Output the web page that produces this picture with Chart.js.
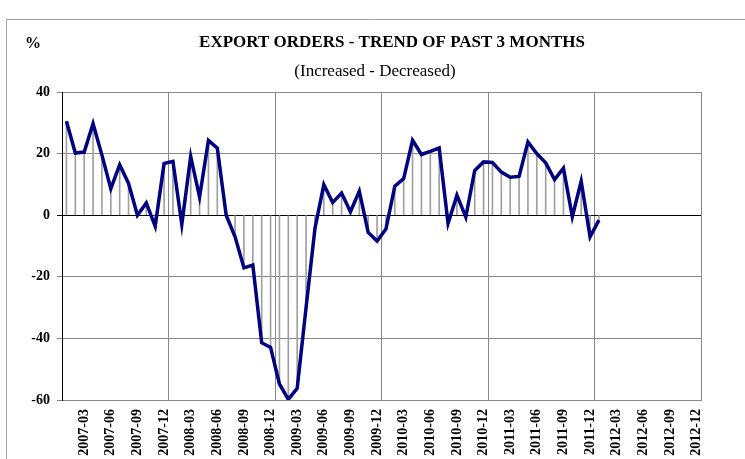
<!DOCTYPE html>
<html>
<head>
<meta charset="utf-8">
<script src="https://cdn.jsdelivr.net/npm/chart.js@4"></script>
<style>
  body { margin: 0; background: #fff; }
  canvas { display: block; }
</style>
</head>
<body>
<canvas id="myChart" width="745" height="459"></canvas>
<script>
// Categories: one per month, 2007-01 .. 2012-12
var years = ['2007', '2008', '2009', '2010', '2011', '2012'];
var months = ['01', '02', '03', '04', '05', '06', '07', '08', '09', '10', '11', '12'];

// Export orders balance (increased - decreased), % , 2007-01 .. 2012-01
var balance = [
    30.5, 20.2, 20.5, 29.7, 19.5, 8.6, 16.4, 10.3, 0, 4.0, -3.6, 16.8,
    17.5, -3.0, 19.1, 5.9, 24.3, 21.8, 0, -7.0, -17.1, -16.2, -41.4, -42.9,
    -54.8, -59.8, -56.2, -30, -4.3, 9.9, 4.1, 7.2, 1.1, 7.8, -5.6, -8.4,
    -4.5, 9.4, 11.9, 24.3, 19.7, 20.7, 21.8, -2.7, 6.5, -0.6, 14.5, 17.3,
    17.1, 14.0, 12.3, 12.6, 23.8, 20.0, 17.0, 11.6, 15.3, -0.5, 11.0, -7.0,
    -1.6
];

var yTicks = [-60, -40, -20, 0, 20, 40];

var chartTitle = 'EXPORT ORDERS - TREND OF PAST 3 MONTHS';
var chartSubtitle = '(Increased - Decreased)';
var unitLabel = '%';

var labels = [];
for (let y of years) {
    for (let m of months) {
        labels.push(y + '-' + m);
    }
}

var serif = "'Liberation Serif', 'Times New Roman', serif";

// Frame and texts drawn around the plot
var decorations = {
    id: 'decorations',
    beforeDraw: function (chart) {
        var ctx = chart.ctx;
        ctx.save();
        ctx.strokeStyle = '#a0a0a0';
        ctx.lineWidth = 1;
        ctx.beginPath();
        ctx.moveTo(6.5, 459);
        ctx.lineTo(6.5, 19.5);
        ctx.lineTo(745, 19.5);
        ctx.stroke();
        ctx.restore();
    },
    afterDraw: function (chart) {
        var ctx = chart.ctx;
        ctx.save();
        ctx.fillStyle = '#000';
        ctx.textBaseline = 'middle';
        ctx.textAlign = 'center';
        ctx.font = 'bold 17px ' + serif;
        ctx.fillText(chartTitle, 392, 43);
        ctx.font = '17px ' + serif;
        ctx.fillText(chartSubtitle, 375, 72);
        ctx.font = 'bold 16px ' + serif;
        ctx.fillText(unitLabel, 33, 44);
        ctx.restore();
    }
};

var ctx = document.getElementById('myChart').getContext('2d');
new Chart(ctx, {
    data: {
        labels: labels,
        datasets: [
            {
                type: 'line',
                data: balance,
                borderColor: '#000080',
                borderWidth: 3.5,
                pointRadius: 0,
                tension: 0,
                order: 0
            },
            {
                // drop lines from each point to zero
                type: 'bar',
                data: balance,
                backgroundColor: '#a0a0a0',
                barThickness: 1,
                grouped: false,
                order: 1
            }
        ]
    },
    options: {
        responsive: false,
        animation: false,
        devicePixelRatio: 1,
        layout: {
            padding: { left: 0, top: 92, right: 44, bottom: 0 }
        },
        scales: {
            x: {
                type: 'category',
                offset: true,
                afterFit: function (scale) { scale.height = 59; },
                grid: {
                    offset: true,
                    drawTicks: false,
                    color: function (c) {
                        if (c.index === undefined) return '#888';
                        if (c.index === 0) return 'rgba(0,0,0,0)';
                        return c.index % 12 === 0 ? '#888' : 'rgba(0,0,0,0)';
                    }
                },
                border: { color: '#888' },
                ticks: {
                    autoSkip: false,
                    maxRotation: 90,
                    minRotation: 90,
                    padding: 9,
                    color: '#000',
                    font: { family: serif, size: 14, weight: 'bold' },
                    callback: function (val, index) {
                        return index % 3 === 2 ? labels[index] : '';
                    }
                }
            },
            y: {
                min: -60,
                max: 40,
                afterFit: function (scale) { scale.width = 62; },
                afterBuildTicks: function (scale) {
                    scale.ticks = yTicks.map(function (v) { return { value: v }; });
                },
                grid: {
                    tickLength: 5,
                    color: function (c) {
                        return c.tick && c.tick.value === 0 ? '#000' : '#888';
                    }
                },
                border: { color: '#000' },
                ticks: {
                    padding: 7,
                    color: '#000',
                    font: { family: serif, size: 14, weight: 'bold' }
                }
            }
        },
        plugins: {
            legend: { display: false },
            tooltip: { enabled: false }
        }
    },
    plugins: [decorations]
});
</script>
</body>
</html>
